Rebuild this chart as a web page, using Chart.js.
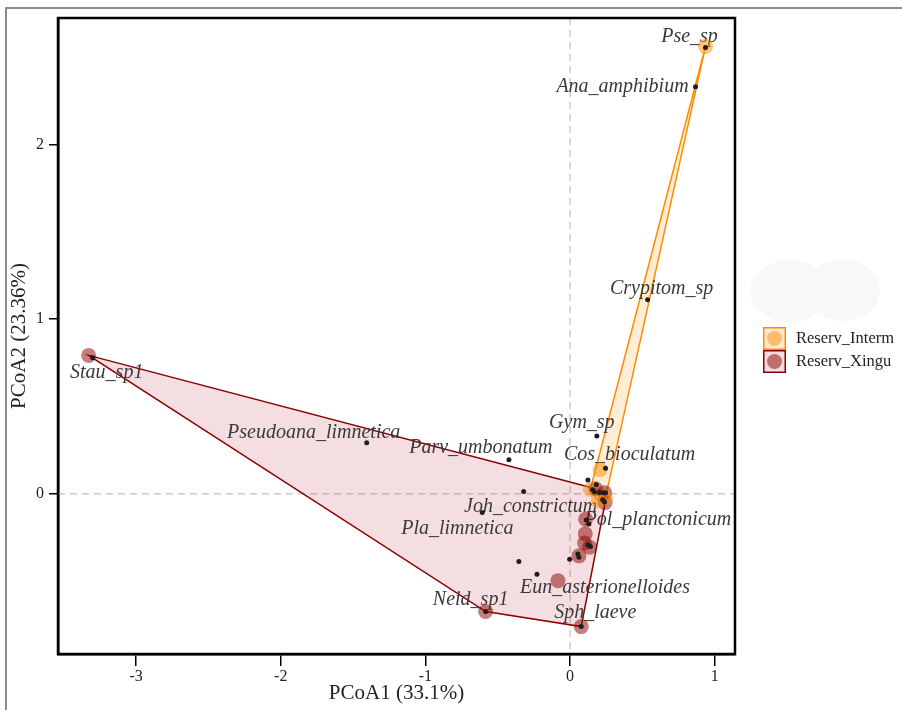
<!DOCTYPE html>
<html>
<head>
<meta charset="utf-8">
<script src="https://cdn.jsdelivr.net/npm/chart.js@4.4.0/dist/chart.umd.min.js"></script>
<style>
html, body { margin: 0; padding: 0; background: #fff; }
#wrap { width: 902px; height: 710px; }
</style>
</head>
<body>
<div id="wrap"><canvas id="myChart" width="902" height="710"></canvas></div>
<script>
// species scores (black dots), '' = not labelled
var speciesNames = ['Pse_sp', 'Ana_amphibium', 'Crypitom_sp', 'Stau_sp1', 'Pseudoana_limnetica',
    'Parv_umbonatum', 'Gym_sp', 'Cos_bioculatum', 'Joh_constrictum', 'Pla_limnetica',
    'Pol_planctonicum', 'Eun_asterionelloides', 'Neid_sp1', 'Sph_laeve',
    '', '', '', '', '', '', '', '', '', '', '', '', '', '', '', ''];
var speciesX = [0.936, 0.867, 0.536, -3.300, -1.406, -0.423, 0.185, 0.245, -0.321, -0.607,
    0.130, -0.229, -0.584, 0.077,
    0.123, 0.181, 0.155, 0.169, 0.204, 0.232, 0.245, 0.225, 0.238, 0.112, -0.354, -0.003,
    0.054, 0.061, 0.123, 0.140];
var speciesY = [2.556, 2.332, 1.112, 0.779, 0.292, 0.195, 0.332, 0.147, 0.013, -0.107,
    -0.172, -0.460, -0.674, -0.760,
    0.080, 0.052, 0.023, 0.011, 0.006, 0.006, 0.006, -0.034, -0.046, -0.149, -0.388, -0.374,
    -0.344, -0.363, -0.292, -0.302];

// site scores per group
var intermX = [0.936, 0.207, 0.140, 0.195, 0.245];
var intermY = [2.562, 0.138, 0.025, -0.040, -0.020];
var xinguX = [-3.328, -0.584, 0.077, -0.084, 0.061, 0.135, 0.100, 0.105, 0.107, 0.242, 0.238, 0.176];
var xinguY = [0.793, -0.674, -0.760, -0.497, -0.355, -0.305, -0.281, -0.229, -0.145, -0.050, 0.007, 0.029];

var groupNames = ['Reserv_Interm', 'Reserv_Xingu'];
var xTicks = [-3, -2, -1, 0, 1];
var yTicks = [0, 1, 2];

// label nudges in px (repel-style placement)
var labelDx = [-16, -73, 14, 14, -53, -28, -15, 24, 7, -25, 69, 68, -15, 14];
var labelDy = [-11, 0, -11, 15, -10, -12, -13, -13, 15, 16, -4, 14, -12, -14];

var orange = 'rgb(255,140,0)';
var red = 'rgb(139,0,0)';

function pts(xs, ys) {
    return xs.map(function (v, i) { return { x: v, y: ys[i] }; });
}

function hull(p) {
    p = p.slice().sort(function (a, b) { return a[0] - b[0] || a[1] - b[1]; });
    function cross(o, a, b) { return (a[0] - o[0]) * (b[1] - o[1]) - (a[1] - o[1]) * (b[0] - o[0]); }
    var lower = [], upper = [];
    for (var i = 0; i < p.length; i++) {
        while (lower.length >= 2 && cross(lower[lower.length - 2], lower[lower.length - 1], p[i]) <= 0) lower.pop();
        lower.push(p[i]);
    }
    for (var j = p.length - 1; j >= 0; j--) {
        while (upper.length >= 2 && cross(upper[upper.length - 2], upper[upper.length - 1], p[j]) <= 0) upper.pop();
        upper.push(p[j]);
    }
    lower.pop(); upper.pop();
    return lower.concat(upper);
}

var ordiPlugin = {
    id: 'ordi',
    beforeDraw: function (chart) {
        var ctx = chart.ctx;
        ctx.save();
        // faint blob at the right
        ctx.fillStyle = '#f8f8f8';
        ctx.beginPath(); ctx.ellipse(790, 291, 40, 31, 0, 0, Math.PI * 2); ctx.fill();
        ctx.beginPath(); ctx.ellipse(843, 290, 37, 31, 0, 0, Math.PI * 2); ctx.fill();
        ctx.restore();
    },
    beforeDatasetsDraw: function (chart) {
        var ctx = chart.ctx, sx = chart.scales.x, sy = chart.scales.y, a = chart.chartArea;
        ctx.save();
        // zero lines
        ctx.strokeStyle = '#cccccc';
        ctx.lineWidth = 1.5;
        ctx.setLineDash([7, 5]);
        var x0 = sx.getPixelForValue(0), y0 = sy.getPixelForValue(0);
        ctx.beginPath(); ctx.moveTo(x0, a.top); ctx.lineTo(x0, a.bottom); ctx.stroke();
        ctx.beginPath(); ctx.moveTo(a.left, y0); ctx.lineTo(a.right, y0); ctx.stroke();
        ctx.setLineDash([]);

        // hulls
        var groups = [[xinguX, xinguY, 'rgba(180,0,20,0.13)', red], [intermX, intermY, 'rgba(255,140,0,0.16)', orange]];
        groups.forEach(function (g) {
            var p = g[0].map(function (v, i) { return [sx.getPixelForValue(v), sy.getPixelForValue(g[1][i])]; });
            var h = hull(p);
            ctx.beginPath();
            h.forEach(function (q, i) { if (i === 0) ctx.moveTo(q[0], q[1]); else ctx.lineTo(q[0], q[1]); });
            ctx.closePath();
            ctx.fillStyle = g[2];
            ctx.fill();
            ctx.strokeStyle = g[3];
            ctx.lineWidth = 1.5;
            ctx.stroke();
        });

        // species labels
        ctx.font = 'italic 20px "Liberation Serif"';
        ctx.fillStyle = '#3a3a3a';
        ctx.textAlign = 'center';
        ctx.textBaseline = 'middle';
        speciesNames.forEach(function (n, i) {
            if (!n) return;
            ctx.fillText(n, sx.getPixelForValue(speciesX[i]) + labelDx[i], sy.getPixelForValue(speciesY[i]) + labelDy[i]);
        });
        ctx.restore();
    },
    afterDraw: function (chart) {
        var ctx = chart.ctx, a = chart.chartArea;
        ctx.save();
        ctx.strokeStyle = '#000';
        ctx.lineWidth = 2.5;
        ctx.strokeRect(a.left, a.top, a.right - a.left, a.bottom - a.top);

        // outer grey frame of the screenshot
        ctx.strokeStyle = '#8c8c8c';
        ctx.lineWidth = 2;
        ctx.beginPath(); ctx.moveTo(6, 720); ctx.lineTo(6, 8); ctx.lineTo(910, 8); ctx.stroke();

        // legend
        var items = [[groupNames[0], orange, 'rgba(255,140,0,0.18)', 'rgba(255,140,0,0.5)'],
                     [groupNames[1], red, 'rgba(180,0,20,0.14)', 'rgba(139,0,0,0.5)']];
        ctx.font = '16.5px "Liberation Serif"';
        ctx.textBaseline = 'middle';
        ctx.textAlign = 'left';
        items.forEach(function (it, i) {
            var bx = 763, by = 327 + i * 23;
            ctx.fillStyle = '#fff';
            ctx.fillRect(bx, by, 23, 23);
            ctx.fillStyle = it[2];
            ctx.fillRect(bx, by, 23, 23);
            ctx.strokeStyle = it[1];
            ctx.lineWidth = 1.5;
            ctx.strokeRect(bx + 0.75, by + 0.75, 21.5, 21.5);
            ctx.fillStyle = it[3];
            ctx.beginPath(); ctx.arc(bx + 11.5, by + 11.5, 7.5, 0, Math.PI * 2); ctx.fill();
            ctx.fillStyle = '#222';
            ctx.fillText(it[0], 796, by + 12);
        });
        ctx.restore();
    }
};

var ctx = document.getElementById('myChart').getContext('2d');

var myChart = new Chart(ctx, {
    type: 'scatter',
    data: {
        datasets: [{
            label: 'species',
            data: pts(speciesX, speciesY),
            pointRadius: 2.5,
            backgroundColor: '#1e1e1e',
            borderWidth: 0
        }, {
            label: groupNames[0],
            data: pts(intermX, intermY),
            pointRadius: 7.5,
            backgroundColor: 'rgba(255,140,0,0.5)',
            borderWidth: 0
        }, {
            label: groupNames[1],
            data: pts(xinguX, xinguY),
            pointRadius: 7.5,
            backgroundColor: 'rgba(139,0,0,0.5)',
            borderWidth: 0
        }]
    },
    options: {
        responsive: false,
        animation: false,
        events: [],
        layout: { padding: { top: 18, right: 167, left: 0, bottom: 0 } },
        plugins: { legend: { display: false }, tooltip: { enabled: false } },
        scales: {
            x: {
                type: 'linear',
                min: -3.54,
                max: 1.14,
                afterBuildTicks: function (s) { s.ticks = xTicks.map(function (v) { return { value: v }; }); },
                afterFit: function (s) { s.height = 56; },
                grid: { drawOnChartArea: false, drawTicks: true, tickLength: 12, color: '#000', lineWidth: 1.5 },
                border: { display: true, color: '#000', width: 2.5 },
                ticks: { color: '#222', padding: 1, font: { family: 'Liberation Serif', size: 16 } },
                title: { display: true, text: 'PCoA1 (33.1%)', color: '#222', padding: { top: 0, bottom: 4 },
                    font: { family: 'Liberation Serif', size: 21 } }
            },
            y: {
                type: 'linear',
                min: -0.917,
                max: 2.725,
                afterBuildTicks: function (s) { s.ticks = yTicks.map(function (v) { return { value: v }; }); },
                afterFit: function (s) { s.width = 58; },
                grid: { drawOnChartArea: false, drawTicks: true, tickLength: 9, color: '#000', lineWidth: 1.5 },
                border: { display: true, color: '#000', width: 2.5 },
                ticks: { color: '#222', padding: 5, font: { family: 'Liberation Serif', size: 16 } },
                title: { display: true, text: 'PCoA2 (23.36%)', color: '#222', padding: { top: 7, bottom: 0 },
                    font: { family: 'Liberation Serif', size: 21 } }
            }
        }
    },
    plugins: [ordiPlugin]
});
</script>
</body>
</html>
